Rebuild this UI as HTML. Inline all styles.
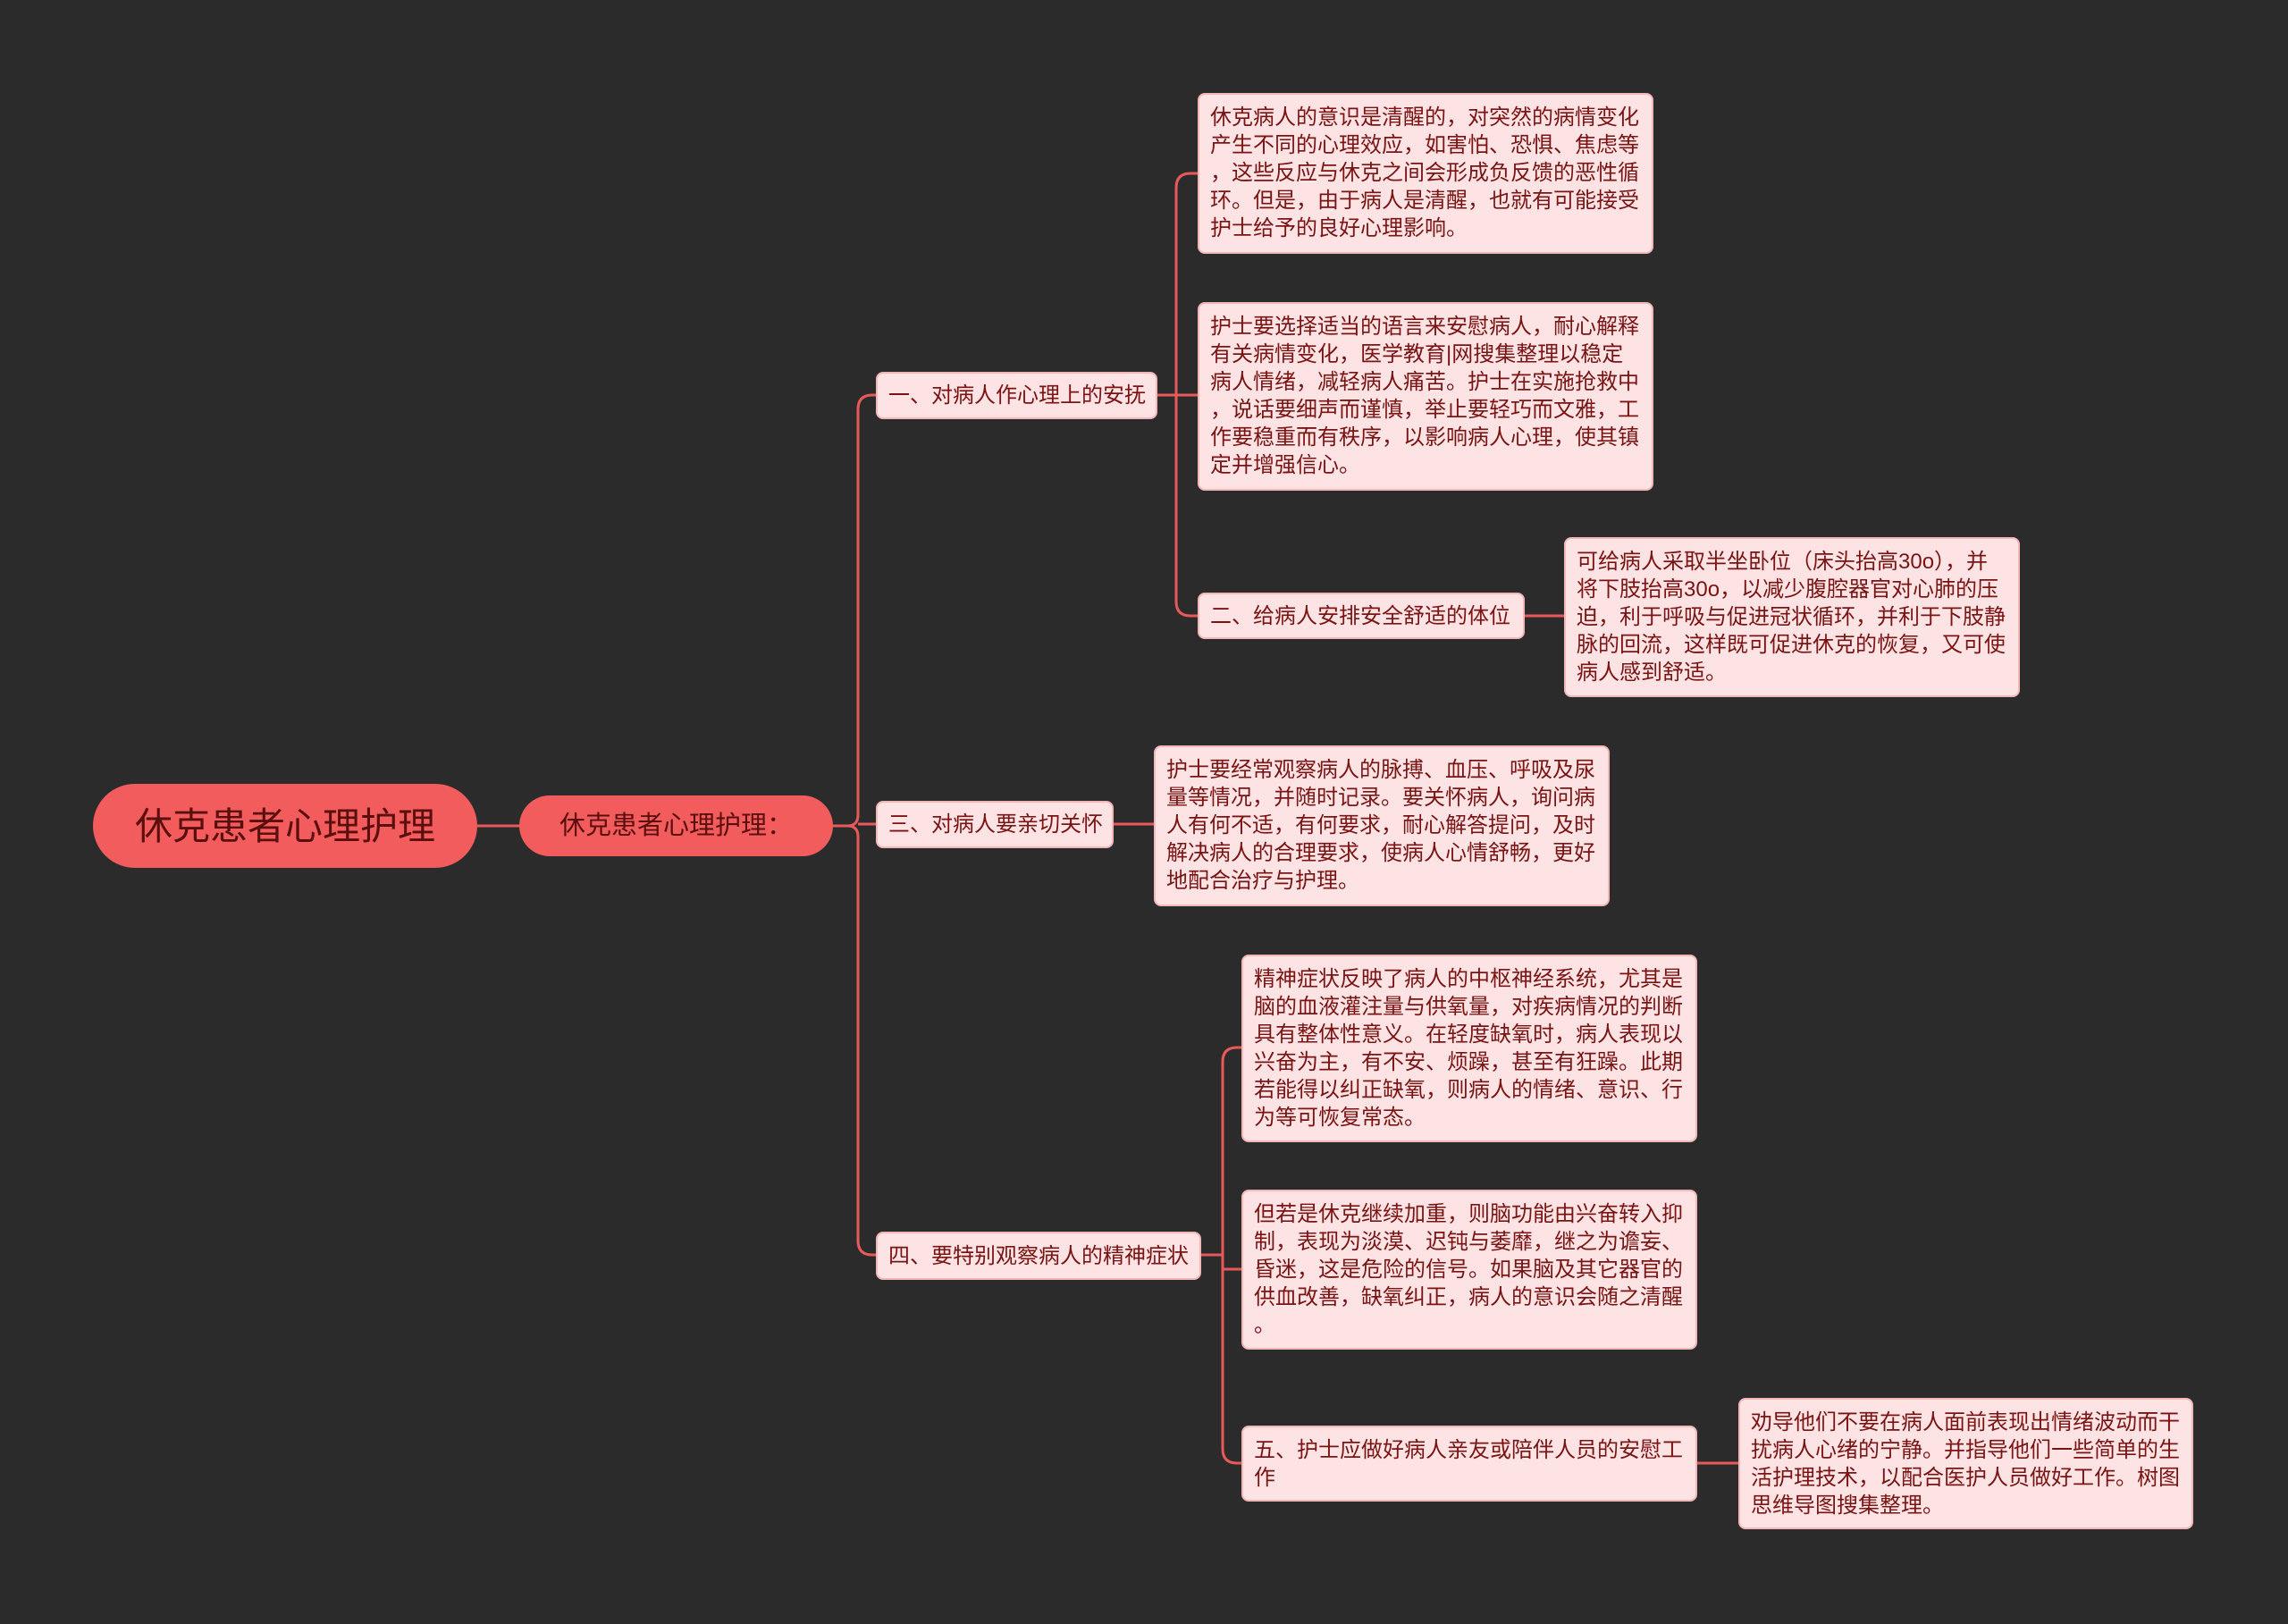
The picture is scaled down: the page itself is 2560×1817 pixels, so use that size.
<!DOCTYPE html>
<html><head><meta charset="utf-8"><style>
body{margin:0;width:2560px;height:1817px;background:#2b2b2b;position:relative;overflow:hidden;font-family:"Liberation Sans","Noto Sans CJK SC",sans-serif}
.n{position:absolute;box-sizing:border-box;background:#fde3e3;border:2px solid #f3b7b7;border-radius:8px;color:#7a1414;font-size:24px;line-height:31px;white-space:nowrap}
.b{display:flex;align-items:center;padding:0 12px}
.l{padding:10px 12px}
svg{position:absolute;left:0;top:0}
</style></head><body>
<svg width="2560" height="1817" fill="none" stroke="#e85a5a" stroke-width="3">
<path d="M534 924H581"/>
<path d="M932 924H948Q960 924 960 912V458Q960 442 976 442H980"/>
<path d="M948 924Q960 924 960 936V1388Q960 1404 976 1404H980"/>
<path d="M960 922H980"/>
<path d="M1295 442H1316"/>
<path d="M1316 442V210Q1316 194 1332 194H1340"/>
<path d="M1316 442V673Q1316 689 1332 689H1340"/>
<path d="M1316 442H1340"/>
<path d="M1706 689H1750"/>
<path d="M1246 922H1291"/>
<path d="M1344 1404H1368"/>
<path d="M1368 1404V1188Q1368 1172 1384 1172H1389"/>
<path d="M1368 1404V1621Q1368 1637 1384 1637H1389"/>
<path d="M1368 1420H1389"/>
<path d="M1899 1637H1945"/>
</svg>
<div class="n b" style="left:104px;top:877px;width:430px;height:94px;background:#f25c5c;border:none;border-radius:47px;font-size:42px;color:#5a0e0e;justify-content:center">休克患者心理护理</div>
<div class="n b" style="left:581px;top:890px;width:351px;height:68px;background:#f25c5c;border:none;border-radius:34px;font-size:29px;color:#5a0e0e;justify-content:center">休克患者心理护理：</div>
<div class="n b" style="left:980px;top:416px;width:315px;height:53px">一、对病人作心理上的安抚</div>
<div class="n b" style="left:980px;top:896px;width:266px;height:53px">三、对病人要亲切关怀</div>
<div class="n b" style="left:980px;top:1378px;width:364px;height:54px">四、要特别观察病人的精神症状</div>
<div class="n l" style="left:1340px;top:104px;width:510px;height:180px">休克病人的意识是清醒的，对突然的病情变化<br>产生不同的心理效应，如害怕、恐惧、焦虑等<br>，这些反应与休克之间会形成负反馈的恶性循<br>环。但是，由于病人是清醒，也就有可能接受<br>护士给予的良好心理影响。</div>
<div class="n l" style="left:1340px;top:338px;width:510px;height:211px">护士要选择适当的语言来安慰病人，耐心解释<br>有关病情变化，医学教育|网搜集整理以稳定<br>病人情绪，减轻病人痛苦。护士在实施抢救中<br>，说话要细声而谨慎，举止要轻巧而文雅，工<br>作要稳重而有秩序，以影响病人心理，使其镇<br>定并增强信心。</div>
<div class="n b" style="left:1340px;top:663px;width:366px;height:52px">二、给病人安排安全舒适的体位</div>
<div class="n l" style="left:1750px;top:601px;width:510px;height:179px">可给病人采取半坐卧位（床头抬高30o），并<br>将下肢抬高30o，以减少腹腔器官对心肺的压<br>迫，利于呼吸与促进冠状循环，并利于下肢静<br>脉的回流，这样既可促进休克的恢复，又可使<br>病人感到舒适。</div>
<div class="n l" style="left:1291px;top:834px;width:510px;height:180px">护士要经常观察病人的脉搏、血压、呼吸及尿<br>量等情况，并随时记录。要关怀病人，询问病<br>人有何不适，有何要求，耐心解答提问，及时<br>解决病人的合理要求，使病人心情舒畅，更好<br>地配合治疗与护理。</div>
<div class="n l" style="left:1389px;top:1068px;width:510px;height:210px">精神症状反映了病人的中枢神经系统，尤其是<br>脑的血液灌注量与供氧量，对疾病情况的判断<br>具有整体性意义。在轻度缺氧时，病人表现以<br>兴奋为主，有不安、烦躁，甚至有狂躁。此期<br>若能得以纠正缺氧，则病人的情绪、意识、行<br>为等可恢复常态。</div>
<div class="n l" style="left:1389px;top:1331px;width:510px;height:179px">但若是休克继续加重，则脑功能由兴奋转入抑<br>制，表现为淡漠、迟钝与萎靡，继之为谵妄、<br>昏迷，这是危险的信号。如果脑及其它器官的<br>供血改善，缺氧纠正，病人的意识会随之清醒<br>。</div>
<div class="n l" style="left:1389px;top:1595px;width:510px;height:85px">五、护士应做好病人亲友或陪伴人员的安慰工<br>作</div>
<div class="n l" style="left:1945px;top:1564px;width:509px;height:147px">劝导他们不要在病人面前表现出情绪波动而干<br>扰病人心绪的宁静。并指导他们一些简单的生<br>活护理技术，以配合医护人员做好工作。树图<br>思维导图搜集整理。</div>
</body></html>
